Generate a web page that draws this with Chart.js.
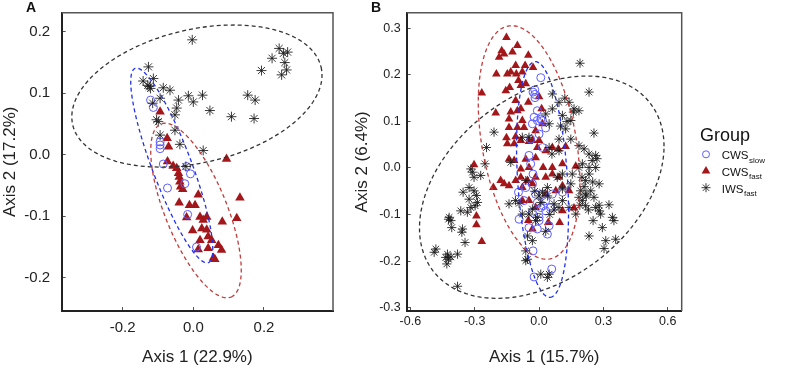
<!DOCTYPE html>
<html>
<head>
<meta charset="utf-8">
<script src="https://cdn.jsdelivr.net/npm/chart.js@4.4.1/dist/chart.umd.min.js"></script>
<style>
  html, body { margin: 0; padding: 0; background: #fff; }
  #wrap { position: relative; width: 791px; height: 368px; overflow: hidden; }
  canvas { position: absolute; top: 0; }
  #ca { left: 0; }
  #cb { left: 340px; }
  .tag { position: absolute; top: 0; font: bold 14px/14px "Liberation Sans", Arial, sans-serif; color: #111; }
</style>
</head>
<body>
<div id="wrap">
  <canvas id="ca" width="340" height="368"></canvas>
  <canvas id="cb" width="451" height="368"></canvas>
  <div class="tag" style="left:26px">A</div>
  <div class="tag" style="left:371px">B</div>
</div>
<script>
// ---- panel A values ----
const slowA = [[-0.121,0.089],[-0.113,0.077],[-0.094,0.021],[-0.094,0.016],[-0.094,0.010],[-0.085,-0.015],
  [-0.073,-0.054],[-0.024,-0.047],[-0.008,-0.031],[-0.019,-0.019],[-0.016,-0.097],[0.009,-0.150]];
const fastA = [[-0.094,0.070],[-0.074,0.027],[-0.070,0.013],[-0.073,-0.011],[-0.057,-0.018],[-0.047,-0.022],
  [-0.042,-0.030],[-0.040,-0.036],[-0.038,-0.044],[-0.036,-0.052],[-0.030,-0.056],[0.094,-0.007],[0.014,-0.065],
  [-0.040,-0.078],[-0.011,-0.082],[0.005,-0.082],[-0.019,-0.102],[0.019,-0.101],[0.038,-0.101],[0.028,-0.106],
  [0.132,-0.070],[0.082,-0.109],[0.123,-0.103],[-0.002,-0.123],[0.024,-0.120],[0.038,-0.122],[0.042,-0.133],
  [0.019,-0.139],[0.052,-0.139],[0.071,-0.147],[0.080,-0.155],[0.014,-0.154],[0.042,-0.152],[0.057,-0.168],[0.061,-0.170]];
const iwsA = [[-0.003,0.187],[-0.127,0.143],[0.243,0.173],[0.255,0.165],[0.267,0.167],[0.223,0.157],[0.259,0.150],
  [0.264,0.138],[0.250,0.130],[0.193,0.137],[-0.142,0.120],[-0.125,0.111],[-0.113,0.124],[-0.121,0.108],
  [-0.129,0.113],[-0.085,0.109],[-0.066,0.105],[-0.094,0.092],[-0.115,0.084],[-0.042,0.089],[-0.014,0.096],
  [0.000,0.086],[0.026,0.097],[-0.047,0.076],[-0.052,0.065],[0.047,0.072],[0.108,0.062],[0.154,0.097],
  [0.175,0.089],[0.172,0.059],[-0.104,0.057],[-0.099,0.054],[-0.052,0.040],[-0.094,0.032],[-0.038,0.017],
  [0.028,0.007],[-0.021,-0.019]];
// ellipses: centre x, centre y, first half-axis (x, y), second half-axis (x, y)
const ellSlowA = [-0.061, -0.0174, 0.1037, -0.1580, 0.0522, 0.0113];
const ellFastA = [0.0076, -0.0906, 0.0991, -0.1407, 0.0812, 0.0189];
const ellIwsA = [0.0102, 0.0956, 0.3515, 0.0470, 0.0427, -0.1055];
const ticksAX = [-0.2, 0, 0.2];
const ticksAY = [-0.2, -0.1, 0, 0.1, 0.2];

// ---- panel B values ----
const slowB = [[0.008,0.194],[-0.020,0.168],[-0.028,0.163],[-0.020,0.158],[-0.019,0.151],[-0.008,0.123],
  [-0.023,0.109],[0.008,0.105],[-0.008,0.102],[0.016,0.102],[-0.031,0.095],[0.031,0.086],[0.000,0.073],
  [-0.039,0.062],[0.016,0.044],[-0.047,0.027],[-0.039,0.009],[-0.028,-0.013],[-0.031,-0.034],[-0.062,-0.042],
  [-0.070,-0.070],[-0.016,-0.056],[0.016,-0.056],[0.062,-0.056],[0.109,-0.052],[0.031,-0.070],[-0.008,-0.074],
  [0.008,-0.085],[0.031,-0.092],[0.054,-0.085],[-0.031,-0.095],[0.000,-0.106],[-0.093,-0.110],[0.000,-0.113],
  [-0.047,-0.128],[-0.008,-0.131],[0.047,-0.124],[0.039,-0.142],[-0.028,-0.178],[0.059,-0.217],[-0.023,-0.234],
  [0.019,-0.081],[-0.096,-0.052]];
const fastB = [[-0.152,0.280],[-0.174,0.252],[-0.163,0.245],[-0.124,0.249],[-0.186,0.238],[-0.101,0.263],
  [-0.050,0.242],[-0.028,0.216],[-0.199,0.202],[-0.148,0.202],[-0.132,0.206],[-0.109,0.220],[-0.106,0.202],
  [-0.078,0.206],[-0.065,0.220],[-0.096,0.188],[-0.137,0.173],[-0.085,0.177],[-0.062,0.181],[-0.267,0.161],
  [-0.155,0.166],[-0.202,0.118],[-0.109,0.145],[-0.050,0.141],[0.000,0.153],[0.012,0.127],[-0.085,0.127],
  [-0.132,0.120],[-0.101,0.123],[-0.140,0.105],[-0.078,0.102],[-0.070,0.087],[-0.140,0.087],[-0.101,0.087],
  [-0.016,0.080],[0.016,0.095],[-0.152,0.065],[-0.109,0.067],[-0.085,0.059],[-0.031,0.059],[0.000,0.059],
  [-0.148,0.052],[-0.116,0.052],[-0.047,0.057],[-0.008,0.044],[0.062,0.044],[0.090,0.041],[0.124,0.046],
  [0.031,0.037],[-0.140,0.019],[-0.116,0.016],[-0.062,0.019],[-0.016,0.022],[-0.085,-0.002],[-0.047,0.001],
  [0.019,0.001],[0.062,0.001],[0.109,0.009],[0.171,0.004],[-0.303,0.007],[-0.179,-0.027],[-0.163,-0.034],
  [-0.140,-0.038],[-0.109,-0.027],[-0.085,-0.020],[-0.054,-0.027],[-0.016,-0.020],[0.031,-0.020],[0.062,-0.013],
  [0.093,-0.020],[0.109,-0.038],[0.140,-0.049],[-0.213,-0.042],[-0.078,-0.042],[-0.031,-0.034],[0.078,-0.049],
  [0.031,-0.056],[-0.047,-0.070],[0.109,-0.092],[0.163,-0.086],[-0.016,-0.085],[-0.292,-0.103],[-0.292,-0.122],
  [-0.267,-0.158],[-0.050,-0.113],[0.043,-0.117],[0.096,-0.117],[-0.031,-0.131],[-0.078,-0.070]];
const iwsB = [[0.191,0.225],[0.233,0.163],[0.256,0.075],[0.062,0.159],[0.093,0.141],[0.140,0.141],[0.163,0.127],
  [0.186,0.123],[0.062,0.127],[0.031,0.116],[0.109,0.113],[0.148,0.102],[0.047,0.095],[0.124,0.084],[0.093,0.062],
  [0.148,0.062],[-0.047,0.066],[-0.078,0.066],[0.047,0.044],[0.093,0.037],[0.186,0.048],[0.210,0.041],
  [0.233,0.030],[0.264,0.027],[0.248,0.016],[0.202,0.009],[0.233,0.001],[0.264,0.001],[0.186,0.001],
  [0.155,-0.013],[0.233,-0.013],[0.280,-0.034],[0.217,-0.027],[0.194,-0.049],[0.217,-0.056],[0.241,-0.049],
  [0.256,-0.063],[0.186,-0.063],[0.202,-0.070],[0.217,-0.081],[0.264,-0.085],[0.280,-0.092],[0.326,-0.079],
  [0.287,-0.099],[0.252,-0.113],[0.295,-0.128],[0.233,-0.146],[0.342,-0.106],[0.349,-0.113],[0.357,-0.153],
  [0.311,-0.156],[0.303,-0.173],[0.171,-0.099],[0.140,-0.085],[0.109,-0.070],[0.093,-0.085],[0.070,-0.077],
  [0.039,-0.042],[0.016,-0.052],[0.008,-0.074],[-0.031,-0.088],[-0.093,-0.076],[-0.078,-0.099],[-0.047,-0.099],
  [-0.016,-0.113],[0.031,-0.136],[-0.054,-0.146],[-0.031,-0.156],[-0.062,-0.178],[-0.054,-0.196],[-0.140,-0.077],
  [-0.132,0.012],[-0.008,-0.106],[0.008,-0.228],[0.039,-0.235],[0.047,-0.228],[0.109,-0.045],[0.148,-0.034],
  [0.085,-0.020],[0.109,-0.013],[-0.062,-0.027],[-0.210,0.077],[-0.245,0.044],[-0.252,0.009],[-0.318,-0.002],
  [-0.311,-0.009],[-0.303,-0.020],[-0.272,-0.016],[-0.354,-0.052],[-0.326,-0.042],[-0.303,-0.049],[-0.292,-0.059],
  [-0.287,-0.074],[-0.326,-0.067],[-0.298,-0.081],[-0.318,-0.085],[-0.365,-0.092],[-0.334,-0.095],[-0.419,-0.106],
  [-0.411,-0.113],[-0.422,-0.110],[-0.407,-0.128],[-0.357,-0.131],[-0.360,-0.138],[-0.345,-0.160],[-0.481,-0.174],
  [-0.489,-0.181],[-0.427,-0.185],[-0.435,-0.192],[-0.422,-0.196],[-0.411,-0.191],[-0.380,-0.185],[-0.430,-0.206],
  [-0.380,-0.254],[-0.062,-0.199],[0.220,-0.060],[0.210,-0.040],[0.230,-0.090],[0.200,-0.020],[0.250,-0.030],
  [0.270,0.020],[0.280,-0.080],[0.190,-0.080],[0.120,0.150],[0.160,0.120],[0.060,0.030],[0.040,-0.060],
  [0.070,-0.090],[0.050,-0.100],[-0.020,-0.050],[0.000,-0.060],[-0.110,-0.070],[0.100,0.090],[0.130,0.100]];
const ellSlowB = [0.0163, -0.0247, 0.035, -0.253, 0.116, 0.0034];
const ellFastB = [-0.0466, 0.0548, 0.2368, -0.0855, 0, 0.2358];
const ellIwsB = [0.0126, -0.0412, 0.570, 0.0878, 0, 0.222];
const ticksBX = [-0.6, -0.3, 0, 0.3, 0.6];
const ticksBY = [-0.3, -0.2, -0.1, 0, 0.1, 0.2, 0.3];

const legendTitle = 'Group';
const legendLabels = [['CWS', 'slow'], ['CWS', 'fast'], ['IWS', 'fast']];

const FONT = '"Liberation Sans", Arial, sans-serif';
const RED = '#a3171b', BLUE = '#5c5cff', STAR = 'rgba(25,25,25,0.85)';

function ellipse(p) {
  const pts = [];
  for (let i = 0; i <= 160; i++) {
    const t = i / 160 * 2 * Math.PI;
    pts.push({x: p[0] + p[2] * Math.cos(t) + p[4] * Math.sin(t),
              y: p[1] + p[3] * Math.cos(t) + p[5] * Math.sin(t)});
  }
  return pts;
}
const xy = arr => arr.map(d => ({x: d[0], y: d[1]}));

function datasets(slow, fast, iws, eSlow, eFast, eIws, sz) {
  const ring = (p, col, o) => ({data: ellipse(p), showLine: true, pointRadius: 0, borderColor: col,
    borderWidth: 1.3, borderDash: [4, 3], fill: false, order: o});
  return [
    ring(eIws, '#333', 0), ring(eFast, '#c23b3b', 1), ring(eSlow, '#2030f0', 2),
    {data: xy(iws), pointStyle: 'star', pointRadius: sz.star, borderColor: STAR, borderWidth: 1,
      backgroundColor: 'transparent', order: 3},
    {data: xy(slow), pointStyle: 'circle', pointRadius: sz.circ, borderColor: BLUE, borderWidth: 1,
      backgroundColor: 'transparent', order: 4},
    {data: xy(fast), pointStyle: 'triangle', pointRadius: sz.tri, backgroundColor: RED, borderColor: RED,
      borderWidth: 0, order: 5}
  ];
}

// top and right sides of the box
const frame = {
  id: 'frame',
  afterDraw(c) {
    const a = c.chartArea, g = c.ctx;
    g.save();
    g.strokeStyle = '#555';
    g.lineWidth = 1.5;
    g.beginPath();
    g.moveTo(a.left, a.top);
    g.lineTo(a.right, a.top);
    g.lineTo(a.right, a.bottom);
    g.stroke();
    g.restore();
  }
};

function axis(o) {
  return {
    type: 'linear', min: o.min, max: o.max,
    afterBuildTicks: s => { s.ticks = o.ticks.map(v => ({value: v})); },
    afterFit: s => {
      if (o.w) s.width = o.w;
      if (o.h) s.height = o.h;
      s.paddingTop = s.paddingBottom = s.paddingLeft = s.paddingRight = 0;
    },
    ticks: {callback: v => v.toFixed(1), font: {family: FONT, size: o.fs}, color: '#222',
      padding: o.pad, maxRotation: 0, autoSkip: false},
    grid: {drawOnChartArea: false, tickLength: -4, color: '#555', tickWidth: 1},
    border: {display: true, color: '#222', width: 2},
    title: {display: true, text: o.title, font: {family: FONT, size: 17}, color: '#222',
      padding: {top: o.tpad || 0, bottom: 0}}
  };
}

function panel(id, sets, x, y, pad, extra) {
  return new Chart(document.getElementById(id), {
    type: 'scatter',
    data: {datasets: sets},
    options: {
      responsive: false, animation: false, devicePixelRatio: 1, events: [],
      layout: {padding: pad},
      plugins: {legend: {display: false}, tooltip: {enabled: false}},
      scales: {x: axis(x), y: axis(y)}
    },
    plugins: [frame].concat(extra || [])
  });
}

panel('ca', datasets(slowA, fastA, iwsA, ellSlowA, ellFastA, ellIwsA, {star: 5, circ: 4, tri: 5.5}),
  {min: -0.3725, max: 0.3954, ticks: ticksAX, fs: 15, pad: 12, h: 57, title: 'Axis 1 (22.9%)'},
  {min: -0.254, max: 0.2311, ticks: ticksAY, fs: 15, pad: 15.5, w: 61.7, title: 'Axis 2 (17.2%)'},
  {top: 12.7, right: 7, bottom: 0, left: 0});

const groupLegend = {
  id: 'groupLegend',
  afterDraw(c) {
    const g = c.ctx;
    const marks = [
      {style: 'circle', r: 3.5, fill: 'transparent', stroke: BLUE, bw: 1},
      {style: 'triangle', r: 5, fill: RED, stroke: RED, bw: 0},
      {style: 'star', r: 4.5, fill: 'transparent', stroke: STAR, bw: 1}
    ];
    g.save();
    g.fillStyle = '#111';
    g.textAlign = 'left';
    g.textBaseline = 'middle';
    g.font = '18px ' + FONT;
    g.fillText(legendTitle, 360, 136);
    legendLabels.forEach((lab, i) => {
      const y = 154.3 + i * 16.7, m = marks[i];
      g.fillStyle = m.fill;
      g.strokeStyle = m.stroke;
      g.lineWidth = m.bw;
      Chart.helpers.drawPoint(g, {pointStyle: m.style, radius: m.r, borderWidth: m.bw, rotation: 0}, 366, y);
      g.fillStyle = '#111';
      g.textBaseline = 'alphabetic';
      g.font = '11.5px ' + FONT;
      g.fillText(lab[0], 381.7, y + 5);
      const w = g.measureText(lab[0]).width;
      g.font = '8px ' + FONT;
      g.fillText(lab[1], 381.7 + w + 0.5, y + 8.4);
    });
    g.restore();
  }
};

panel('cb', datasets(slowB, fastB, iwsB, ellSlowB, ellFastB, ellIwsB, {star: 4.6, circ: 4, tri: 5}),
  {min: -0.617, max: 0.665, ticks: ticksBX, fs: 12.5, pad: 7.2, h: 57, title: 'Axis 1 (15.7%)'},
  {min: -0.3071, max: 0.3335, ticks: ticksBY, fs: 12.5, pad: 10, w: 66.7, tpad: 12.3, title: 'Axis 2 (6.4%)'},
  {top: 12.7, right: 109.3, bottom: 0, left: 0}, [groupLegend]);
</script>
</body>
</html>
